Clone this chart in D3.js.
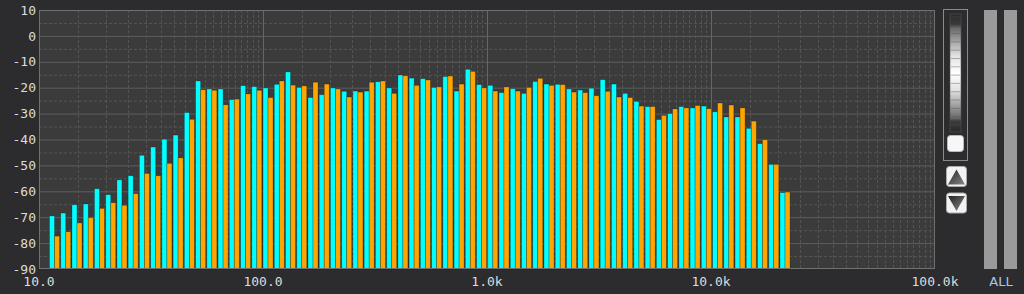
<!DOCTYPE html>
<html>
<head>
<meta charset="utf-8">
<script src="https://cdn.jsdelivr.net/npm/d3@7"></script>
<style>
  html, body { margin: 0; padding: 0; background: #2c2c2e; overflow: hidden; }
  text { font-family: "DejaVu Sans Mono", monospace; }
</style>
</head>
<body>
<div id="chart"></div>
<script>
// lower edge of each 1/6 octave band (Hz)
var bandFreqs = [
  11.05, 12.40, 13.92, 15.63, 17.54, 19.69, 22.10, 24.80, 27.84, 31.25,
  35.08, 39.37, 44.19, 49.61, 55.68, 62.50, 70.15, 78.75, 88.39, 99.21,
  111.4, 125.0, 140.3, 157.5, 176.8, 198.4, 222.7, 250.0, 280.6, 315.0,
  353.6, 396.9, 445.4, 500.0, 561.2, 630.0, 707.1, 793.7, 890.9, 1000,
  1122, 1260, 1414, 1587, 1782, 2000, 2245, 2520, 2828, 3175,
  3564, 4000, 4490, 5040, 5657, 6350, 7127, 8000, 8980, 10079,
  11314, 12699, 14254, 16000, 17959, 20159
];

// level of the first (cyan) channel in dB
var levelsA = [
  -69.5, -68.4, -65.2, -64.9, -59.0, -61.3, -55.6, -54.0, -46.1, -42.9,
  -39.9, -38.3, -29.6, -17.4, -20.5, -20.5, -24.6, -19.2, -19.6, -20.1,
  -18.7, -13.9, -19.9, -23.8, -22.7, -20.1, -21.4, -21.3, -21.3, -17.7,
  -20.1, -15.1, -16.3, -16.5, -19.9, -15.7, -21.3, -12.9, -18.8, -19.1,
  -21.9, -20.4, -22.2, -17.6, -18.6, -18.7, -20.5, -20.9, -20.2, -16.9,
  -18.6, -22.2, -25.3, -27.3, -32.3, -30.0, -27.3, -27.8, -27.1, -29.3,
  -31.3, -31.3, -35.7, -41.6, -49.6, -60.5
];

// level of the second (orange) channel in dB
var levelsB = [
  -77.3, -75.6, -72.2, -70.2, -66.6, -64.4, -65.4, -60.9, -53.1, -54.0,
  -49.2, -47.1, -32.2, -20.8, -21.0, -26.6, -24.4, -22.4, -21.0, -23.8,
  -17.4, -19.0, -19.3, -17.9, -18.6, -20.5, -23.6, -21.7, -17.9, -17.4,
  -22.2, -15.4, -19.1, -17.0, -19.7, -15.5, -18.6, -13.7, -20.1, -21.3,
  -19.7, -21.3, -19.9, -16.4, -19.1, -18.8, -21.7, -21.9, -23.1, -21.4,
  -23.6, -23.8, -27.1, -27.3, -30.7, -28.2, -27.8, -26.9, -28.1, -25.9,
  -26.7, -27.8, -32.9, -40.1, -49.6, -60.3
];

var yTicks = [10, 0, -10, -20, -30, -40, -50, -60, -70, -80, -90];
var xTicks = [10, 100, 1000, 10000, 100000];
var xTickLabels = ['10.0', '100.0', '1.0k', '10.0k', '100.0k'];

var chart_width = 1024;
var chart_height = 294;
var plot = {left: 39, right: 935, top: 10, bottom: 269};

var svg = d3.select('#chart')
  .append('svg')
  .attr('width', chart_width)
  .attr('height', chart_height);

// scales
var x_scale = d3.scaleLog()
  .domain([10, 100000])
  .range([plot.left, plot.right]);

var y_scale = d3.scaleLinear()
  .domain([-90, 10])
  .range([plot.bottom, plot.top]);

// plot background
svg.append('rect')
  .attr('x', plot.left)
  .attr('y', plot.top)
  .attr('width', plot.right - plot.left)
  .attr('height', plot.bottom - plot.top)
  .attr('fill', '#3b3b3b');

// horizontal grid, every 5 dB
var hLines = d3.range(-85, 10, 5);
svg.selectAll('line.hgrid')
  .data(hLines)
  .enter()
  .append('line')
  .attr('class', 'hgrid')
  .attr('x1', plot.left)
  .attr('x2', plot.right)
  .attr('y1', (d) => y_scale(d) + 0.5)
  .attr('y2', (d) => y_scale(d) + 0.5)
  .attr('stroke', (d) => d % 10 === 0 ? '#5e5e5e' : '#555')
  .attr('stroke-dasharray', (d) => d % 10 === 0 ? null : '3,2');

// vertical grid, half steps inside each decade
var vLines = [];
[10, 100, 1000, 10000].forEach(function(dec) {
  for (var m = 1; m < 10; m += 0.5) {
    vLines.push({f: dec * m, major: m === 1});
  }
});
svg.selectAll('line.vgrid')
  .data(vLines)
  .enter()
  .append('line')
  .attr('class', 'vgrid')
  .attr('x1', (d) => Math.round(x_scale(d.f)) + 0.5)
  .attr('x2', (d) => Math.round(x_scale(d.f)) + 0.5)
  .attr('y1', plot.top)
  .attr('y2', plot.bottom)
  .attr('stroke', (d) => d.major ? '#666' : '#545454')
  .attr('stroke-dasharray', (d) => d.major ? null : '3,2');

// bars, two channels per band
var bands = bandFreqs.map(function(f, i) {
  return {f: f, a: levelsA[i], b: levelsB[i]};
});
var step = x_scale(bandFreqs[1]) - x_scale(bandFreqs[0]);
var inner = d3.scaleBand()
  .domain(['a', 'b'])
  .range([0, step - 1.2]);

var colors = {a: '#00ffff', b: '#ffa500'};

var groups = svg.selectAll('g.band')
  .data(bands)
  .enter()
  .append('g')
  .attr('class', 'band')
  .attr('transform', (d) => 'translate(' + (x_scale(d.f) + 0.8) + ',0)');

groups.selectAll('rect')
  .data((d) => [{key: 'a', v: d.a}, {key: 'b', v: d.b}])
  .enter()
  .append('rect')
  .attr('x', (d) => inner(d.key))
  .attr('y', (d) => y_scale(d.v))
  .attr('width', inner.bandwidth())
  .attr('height', (d) => plot.bottom - y_scale(d.v))
  .attr('fill', (d) => colors[d.key])
  .attr('stroke', '#000')
  .attr('stroke-opacity', 0.28)
  .attr('stroke-width', 0.8);

// frame
svg.append('rect')
  .attr('x', plot.left + 0.5)
  .attr('y', plot.top + 0.5)
  .attr('width', plot.right - plot.left - 1)
  .attr('height', plot.bottom - plot.top - 1)
  .attr('fill', 'none')
  .attr('stroke', '#707070');

// axis labels
svg.selectAll('text.ylab')
  .data(yTicks)
  .enter()
  .append('text')
  .attr('class', 'ylab')
  .text((d) => d)
  .attr('x', 36)
  .attr('y', (d) => y_scale(d))
  .attr('dy', '0.36em')
  .attr('text-anchor', 'end')
  .attr('font-size', 13)
  .attr('fill', '#dcdcdc');

svg.selectAll('text.xlab')
  .data(xTicks)
  .enter()
  .append('text')
  .attr('class', 'xlab')
  .text((d, i) => xTickLabels[i])
  .attr('x', (d) => x_scale(d))
  .attr('y', 286)
  .attr('text-anchor', 'middle')
  .attr('font-size', 13)
  .attr('fill', '#dcdcdc');

// range slider widget on the right
var defs = svg.append('defs');
var grad = defs.append('linearGradient')
  .attr('id', 'strip')
  .attr('x1', 0).attr('y1', 0).attr('x2', 0).attr('y2', 1);
[[0, '#2a2a2a'], [0.09, '#3a3a3a'], [0.12, '#6a6a6a'], [0.35, '#e0e0e0'],
 [0.5, '#ffffff'], [0.65, '#e0e0e0'], [0.88, '#6a6a6a'], [0.91, '#3a3a3a'], [1, '#2a2a2a']]
  .forEach(function(s) {
    grad.append('stop').attr('offset', s[0]).attr('stop-color', s[1]);
  });

var tri = defs.append('linearGradient')
  .attr('id', 'tri')
  .attr('x1', 0).attr('y1', 0).attr('x2', 1).attr('y2', 1);
tri.append('stop').attr('offset', 0).attr('stop-color', '#222');
tri.append('stop').attr('offset', 1).attr('stop-color', '#888');

svg.append('rect')
  .attr('x', 943.5).attr('y', 9.5)
  .attr('width', 24).attr('height', 151)
  .attr('fill', 'none')
  .attr('stroke', '#8a8a8a');

svg.append('rect')
  .attr('x', 950).attr('y', 14)
  .attr('width', 11).attr('height', 118)
  .attr('fill', 'url(#strip)')
  .attr('stroke', '#555')
  .attr('stroke-width', 0.6);

svg.selectAll('line.striptick')
  .data(d3.range(17, 131, 8.3))
  .enter()
  .append('line')
  .attr('class', 'striptick')
  .attr('x1', 951).attr('x2', 960)
  .attr('y1', (d) => d).attr('y2', (d) => d)
  .attr('stroke', '#555')
  .attr('stroke-opacity', 0.6)
  .attr('stroke-width', 0.7);

svg.append('rect')
  .attr('x', 947.5).attr('y', 135.5)
  .attr('width', 16).attr('height', 16)
  .attr('rx', 3)
  .attr('fill', '#f7f7f7')
  .attr('stroke', '#bbb');

// up / down buttons
[{y: 166, up: true}, {y: 192.5, up: false}].forEach(function(b) {
  svg.append('rect')
    .attr('x', 946.5).attr('y', b.y + 0.5)
    .attr('width', 20).attr('height', 20)
    .attr('rx', 3)
    .attr('fill', '#f2f2f2')
    .attr('stroke', '#aaa');
  var pts = b.up
    ? [[956.5, b.y + 3.5], [965, b.y + 18.5], [948, b.y + 18.5]]
    : [[948, b.y + 3.5], [965, b.y + 3.5], [956.5, b.y + 18.5]];
  svg.append('polygon')
    .attr('points', pts.map((p) => p.join(',')).join(' '))
    .attr('fill', 'url(#tri)');
});

// level meters
svg.selectAll('rect.meter')
  .data([984, 1004])
  .enter()
  .append('rect')
  .attr('class', 'meter')
  .attr('x', (d) => d)
  .attr('y', plot.top)
  .attr('width', 13)
  .attr('height', plot.bottom - plot.top)
  .attr('fill', '#9a9a9a');

svg.append('text')
  .text('ALL')
  .attr('x', 1001)
  .attr('y', 286)
  .attr('text-anchor', 'middle')
  .attr('font-size', 13)
  .attr('font-family', '"DejaVu Sans", sans-serif')
  .style('font-family', '"DejaVu Sans", sans-serif')
  .attr('fill', '#a9c6ec');
</script>
</body>
</html>
